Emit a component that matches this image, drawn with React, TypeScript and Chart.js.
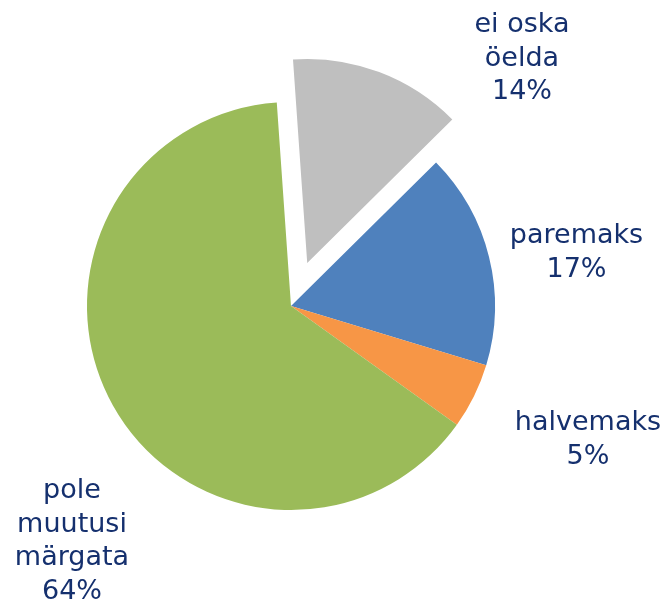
import React, { useEffect, useRef } from "react";
import { Chart, registerables } from "chart.js";

Chart.register(...registerables);

const categories: string[][] = [
  ["ei oska", "öelda"],
  ["paremaks"],
  ["halvemaks"],
  ["pole", "muutusi", "märgata"],
];
const shares: number[] = [13.7, 17.1, 5.2, 64.0];
const colors: string[] = ["#BFBFBF", "#4F81BD", "#F79646", "#9BBB59"];
const explodedIndex = 0;
const explodeDistance = 46;

const TEXT_COLOR = "#15306E";
const FONT = "27px 'DejaVu Sans', Verdana, sans-serif";
const LINE_H = 33.5;

// label anchors relative to pie centre: [x offset, first baseline offset] in radius units
const labelAnchors: [number, number][] = [
  [231 / 204, -274 / 204],
  [285.5 / 204, -63 / 204],
  [297 / 204, 124 / 204],
  [-219 / 204, 192 / 204],
];

const explodePlugin = {
  id: "explodeSlice",
  afterDatasetsUpdate(chart: any) {
    const meta = chart.getDatasetMeta(0);
    const arc: any = meta.data[explodedIndex];
    if (!arc) return;
    const mid = (arc.startAngle + arc.endAngle) / 2;
    arc.x += Math.cos(mid) * explodeDistance;
    arc.y += Math.sin(mid) * explodeDistance;
  },
};

const labelPlugin = {
  id: "sliceLabels",
  afterDraw(chart: any) {
    const meta = chart.getDatasetMeta(0);
    const ctx = chart.ctx;
    const ref: any = meta.data[1];
    if (!ref) return;
    const cx = ref.x;
    const cy = ref.y;
    const r = ref.outerRadius;
    ctx.save();
    ctx.font = FONT;
    ctx.fillStyle = TEXT_COLOR;
    ctx.textAlign = "center";
    ctx.textBaseline = "alphabetic";
    categories.forEach((lines, i) => {
      const all = [...lines, Math.round(shares[i]) + "%"];
      const [ax, ay] = labelAnchors[i];
      const x = cx + ax * r;
      const y0 = cy + ay * r;
      all.forEach((t, j) => ctx.fillText(t, x, y0 + j * LINE_H));
    });
    ctx.restore();
  },
};

export default function App() {
  const canvasRef = useRef<HTMLCanvasElement | null>(null);
  useEffect(() => {
    if (!canvasRef.current) return;
    const chart = new Chart(canvasRef.current, {
      type: "pie",
      data: {
        labels: categories.map((c) => c.join(" ")),
        datasets: [
          {
            data: shares,
            backgroundColor: colors,
            borderWidth: 0,
          },
        ],
      },
      options: {
        responsive: false,
        animation: false,
        devicePixelRatio: 1,
        rotation: -4,
        radius: 204,
        layout: { padding: { left: 0, right: 85, top: 11, bottom: 0 } },
        plugins: {
          legend: { display: false },
          tooltip: { enabled: false },
        },
        events: [],
      } as any,
      plugins: [explodePlugin, labelPlugin],
    });
    return () => chart.destroy();
  }, []);
  return (
    <div style={{ position: "fixed", left: 0, top: 0, width: 667, height: 601, background: "#fff" }}>
      <canvas ref={canvasRef} width={667} height={601} style={{ display: "block" }} />
    </div>
  );
}
